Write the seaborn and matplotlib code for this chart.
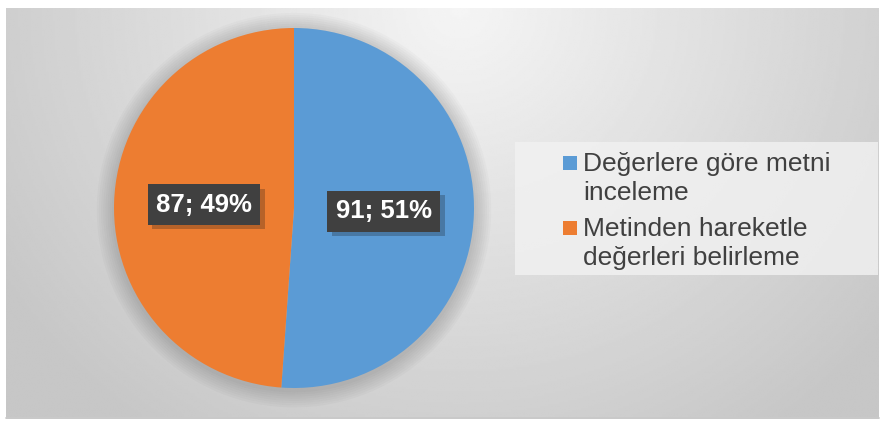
import numpy as np
import matplotlib
matplotlib.use('Agg')
import matplotlib.pyplot as plt
import matplotlib.patheffects as pe
from matplotlib.patches import Rectangle, Circle
import seaborn as sns

# data
categories = ['Değerlere göre metni\ninceleme', 'Metinden hareketle\ndeğerleri belirleme']
counts = [91, 87]
colors = ['#5B9BD5', '#ED7D31']

sns.set_style('white')
plt.rcParams['font.family'] = ['Liberation Sans', 'DejaVu Sans']

W, H = 881, 421
fig = plt.figure(figsize=(W / 100, H / 100), dpi=100)
fig.patch.set_facecolor('white')

# gray radial background of the chart area
bg = fig.add_axes([6 / W, 4 / H, 873 / W, 409 / H])
xx, yy = np.meshgrid(np.linspace(0, 1, 400), np.linspace(0, 1, 200))
d = np.sqrt(((xx - 0.52) / 0.62) ** 2 + ((yy - 0.0) / 1.25) ** 2)
shade = 0.96 - 0.18 * np.clip(d, 0, 1)
bg.imshow(shade, cmap='gray', vmin=0, vmax=1, aspect='auto',
          extent=[0, 1, 1, 0], interpolation='bilinear')
bg.set_xlim(0, 1)
bg.set_ylim(1, 0)
bg.axis('off')
fig.add_artist(plt.Line2D([6 / W, 879 / W], [3.5 / H, 3.5 / H],
                          color='#bfbfbf', lw=1.2))

# pie
ax = fig.add_axes([(294 - 180) / W, (421 - 388) / H, 360 / W, 360 / H])
ax.set_facecolor('none')
total = sum(counts)

# soft shadow around the pie
for k in range(8):
    ax.add_patch(Circle((0.0, -0.012), 1.0 + 0.012 * (k + 1), facecolor='black',
                        edgecolor='none', alpha=0.018, zorder=0, clip_on=False))


def fmt(pct):
    n = int(round(pct * total / 100))
    return f'{n}; {pct:.0f}%'


wedges, texts, autotexts = ax.pie(
    counts, colors=colors, startangle=90, counterclock=False,
    autopct=fmt, pctdistance=0.5, radius=1,
    wedgeprops=dict(linewidth=0, zorder=2),
    textprops=dict(color='white', fontsize=18.5, fontweight='bold', zorder=5))
for t in autotexts:
    t.set_bbox(dict(boxstyle='square,pad=0.33', facecolor='#404040',
                    edgecolor='none'))
    t.get_bbox_patch().set_path_effects(
        [pe.SimplePatchShadow(offset=(3, -3), alpha=0.25), pe.Normal()])
ax.set_xlim(-1, 1)
ax.set_ylim(-1, 1)
ax.set_aspect('equal')
ax.axis('off')

# legend (box + square markers + two-line labels)
fig.add_artist(Rectangle((515 / W, (421 - 275) / H), 363 / W, 133 / H,
                         transform=fig.transFigure, facecolor='#f2f2f2',
                         edgecolor='none', alpha=0.8))
first_line_y = [163, 228]
for name, col, y in zip(categories, colors, first_line_y):
    fig.add_artist(Rectangle((563 / W, (421 - y - 7) / H), 14 / W, 14 / H,
                             transform=fig.transFigure, facecolor=col,
                             edgecolor='none'))
    fig.text(583 / W, (421 - y + 11) / H, name, fontsize=19, color='#404040',
             ha='left', va='top', linespacing=1.27)

fig.savefig('out.png', dpi=100, facecolor='white')
